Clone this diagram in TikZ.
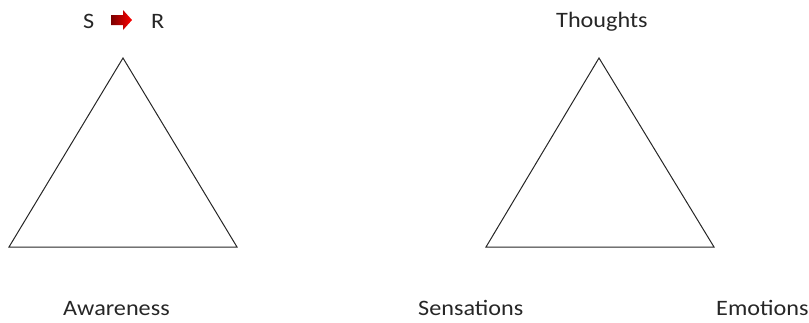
\documentclass[tikz,border=0pt]{standalone}
\usepackage{fontspec}
\setmainfont{Carlito}
\definecolor{arrowred}{HTML}{FF0000}
\definecolor{arrowdark}{HTML}{7A0000}

\begin{document}
\begin{tikzpicture}[x=1pt,y=-1pt,
  every node/.style={font=\fontsize{22}{26}\selectfont,inner sep=0pt,text=black!85,xscale=1.1,transform shape},
  tri/.style={draw=black!85,line width=1pt,line join=miter},
  sr/.style={left color=arrowdark,right color=arrowred,draw=none}]
  \useasboundingbox (0,0) rectangle (809,322);
  % left triangle
  \coordinate (ltop) at (123,58);
  \coordinate (lleft) at (9,247);
  \coordinate (lright) at (237,247);
  \draw[tri] (ltop)--(lright)--(lleft)--cycle;
  % right triangle
  \coordinate (rtop) at (599,58);
  \coordinate (rleft) at (486,247);
  \coordinate (rright) at (714,247);
  \draw[tri] (rtop)--(rright)--(rleft)--cycle;
  % stimulus -> response
  \node[anchor=base west] (s) at (83,28) {S};
  \node[anchor=base west] (r) at (151,28) {R};
  \shade[sr] (111,15)--(123,15)--(123,10)--(132,20)--(123,30)--(123,25)--(111,25)--cycle;
  % corner labels
  \node[anchor=base west] (thoughts) at (556,27) {Thoughts};
  \node[anchor=base west] (awareness) at (63,315) {Awareness};
  \node[anchor=base west] (sensations) at (418,315) {Sensations};
  \node[anchor=base west] (emotions) at (716,315) {Emotions};
\end{tikzpicture}
\end{document}
